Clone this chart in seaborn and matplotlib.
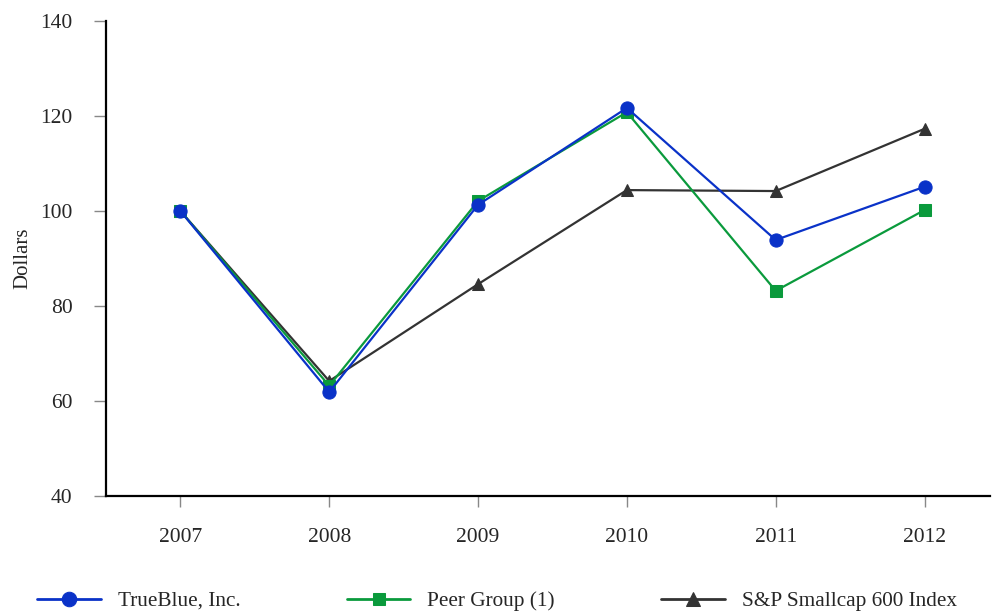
import matplotlib
matplotlib.use("Agg")
import matplotlib.pyplot as plt
import seaborn as sns

# data
years = [2007, 2008, 2009, 2010, 2011, 2012]
trueblue = [100.0, 61.9, 101.3, 121.7, 93.9, 105.1]
peer_group = [100.0, 63.2, 102.1, 120.8, 83.2, 100.2]
sp600 = [100.0, 64.2, 84.6, 104.4, 104.2, 117.3]

series_names = ["TrueBlue, Inc.", "Peer Group (1)", "S&P Smallcap 600 Index"]
series_vals = [trueblue, peer_group, sp600]
colors = ["#0a32c8", "#0a9a3c", "#333333"]
markers = ["o", "s", "^"]
msizes = [9.5, 8.5, 9]

sns.set_style("white")
plt.rcParams["font.family"] = ["Liberation Serif", "DejaVu Serif"]

fig = plt.figure(figsize=(9.92, 6.12), dpi=100)
ax = fig.add_axes([106 / 992, 116 / 612, (990 - 106) / 992, (496 - 21) / 612])

# draw S&P first so TrueBlue ends up on top
for i in [2, 1, 0]:
    sns.lineplot(x=years, y=series_vals[i], ax=ax, color=colors[i], marker=markers[i],
                 markersize=msizes[i], markeredgecolor=colors[i], linewidth=1.6,
                 label=series_names[i], zorder=3 + (2 - i))
h, l = ax.get_legend_handles_labels()
ax.get_legend().remove()
lookup = dict(zip(l, h))

ax.set_xlim(2006.5, 2012.44)
ax.set_ylim(40, 140)
ax.set_xticks(years)
ax.set_yticks([40, 60, 80, 100, 120, 140])
ax.set_ylabel("Dollars", fontsize=15, labelpad=6)

for s in ["top", "right"]:
    ax.spines[s].set_visible(False)
for s in ["left", "bottom"]:
    ax.spines[s].set_color("black")
    ax.spines[s].set_linewidth(1.6)

ax.tick_params(axis="y", length=9, width=1, color="#888888", pad=15, labelsize=15.5, left=True)
ax.tick_params(axis="x", length=8, width=1, color="#888888", pad=15, labelsize=15.5, bottom=True)

leg = fig.legend([lookup[n] for n in series_names], series_names,
                 loc="center left", bbox_to_anchor=(37 / 992, 11 / 612), ncol=3,
                 frameon=False, fontsize=15.3, handlelength=3.0, handletextpad=0.8,
                 columnspacing=5.0, borderpad=0, borderaxespad=0, markerscale=1.1)
for line in leg.get_lines():
    line.set_linewidth(2)

fig.savefig("out.png", dpi=100)
